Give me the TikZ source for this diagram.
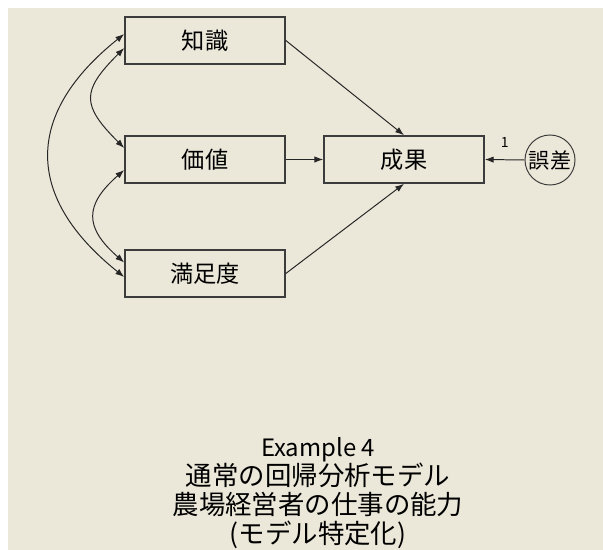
\documentclass[tikz,border=0pt]{standalone}
\usepackage{fontspec}
\setmainfont{Noto Sans CJK JP}
\usepackage{tikz}
\usetikzlibrary{arrows.meta,calc}
\definecolor{ColorFondo}{RGB}{235,232,217}
\definecolor{ColorBorde}{RGB}{60,60,60}

\begin{document}
\begin{tikzpicture}[x=0.025cm,y=-0.025cm,>={Latex[length=2.2mm,width=1.6mm]},
  observada/.style={draw=ColorBorde,line width=1.1pt,minimum width=4cm,minimum height=1.175cm,inner sep=0pt,font=\fontsize{16.5}{18}\selectfont},
  error/.style={circle,draw=ColorBorde,line width=0.7pt,minimum size=1.25cm,inner sep=0pt,font=\fontsize{15}{16}\selectfont},
  camino/.style={->,line width=0.7pt,draw=black!85},
  covarianza/.style={<->,line width=0.7pt,draw=black!85}]
  % Fondo
  \useasboundingbox (0,0) rectangle (603,550);
  \fill[ColorFondo] (8,8) rectangle (603,550);

  % Variables
  \node[observada] (chishiki) at (205,40.5) {知識};
  \node[observada] (kachi) at (205,159.5) {価値};
  \node[observada] (manzoku) at (205,273.5) {満足度};
  \node[observada] (seika) at (404,159.5) {成果};
  \node[error] (gosa) at (550,160) {誤差};

  % Caminos
  \draw[camino] (chishiki.east) -- (seika.north);
  \draw[camino] (kachi.east) -- (seika.west);
  \draw[camino] (manzoku.east) -- (seika.south);
  \draw[camino] (gosa.west) -- node[above=5pt,font=\fontsize{10}{12}\selectfont] {1} (seika.east);

  % Covarianzas
  \draw[covarianza] ($(chishiki.west)+(0,7.5)$) .. controls +(-43,43) and +(-43,-43) .. ($(kachi.west)+(0,-11.5)$);
  \draw[covarianza] ($(kachi.west)+(0,10.5)$) .. controls +(-40,35) and +(-40,-35) .. ($(manzoku.west)+(0,-11)$);
  \draw[covarianza] ($(chishiki.west)+(0,-6.5)$) .. controls +(-100,80) and +(-100,-80) .. ($(manzoku.west)+(0,3.5)$);

  % Titulo
  \node[align=center,font=\fontsize{18.8}{20.6}\selectfont] (titulo) at (318,493)
    {{\fontsize{17}{20.6}\selectfont Example 4}\\通常の回帰分析モデル\\農場経営者の仕事の能力\\(モデル特定化)};
\end{tikzpicture}
\end{document}
